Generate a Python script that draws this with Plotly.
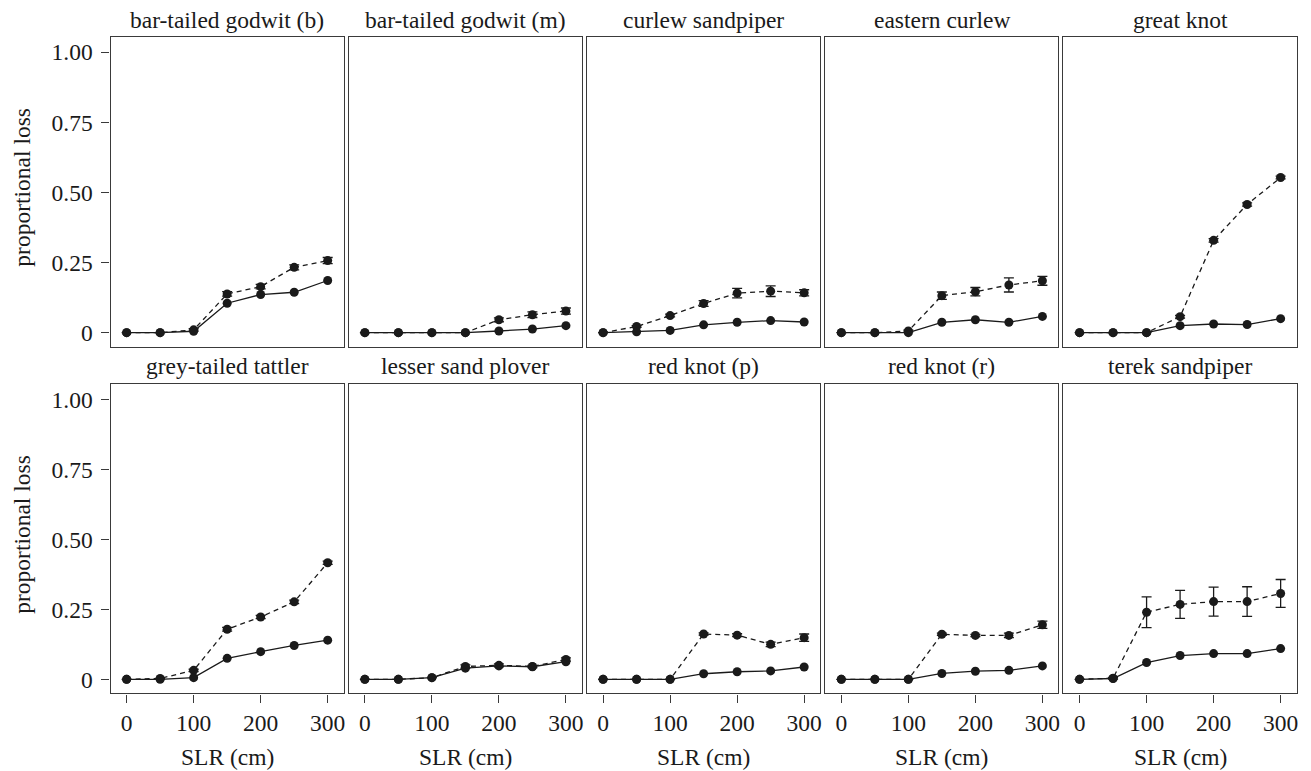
import plotly.graph_objects as go

# ---------------- data ----------------
slr = [0, 50, 100, 150, 200, 250, 300]

species = ["bar-tailed godwit (b)", "bar-tailed godwit (m)", "curlew sandpiper",
           "eastern curlew", "great knot", "grey-tailed tattler",
           "lesser sand plover", "red knot (p)", "red knot (r)", "terek sandpiper"]

btg_b_solid = [0, 0, 0.005, 0.105, 0.136, 0.144, 0.186]
btg_b_dash = [0, 0, 0.010, 0.138, 0.164, 0.233, 0.257]
btg_b_err = [0, 0, 0.004, 0.008, 0.008, 0.009, 0.011]

btg_m_solid = [0, 0, 0, 0, 0.006, 0.013, 0.025]
btg_m_dash = [0, 0, 0, 0, 0.046, 0.064, 0.077]
btg_m_err = [0, 0, 0, 0, 0.007, 0.010, 0.011]

cs_solid = [0, 0.003, 0.008, 0.028, 0.037, 0.043, 0.038]
cs_dash = [0, 0.022, 0.061, 0.104, 0.141, 0.148, 0.142]
cs_err = [0, 0.003, 0.005, 0.010, 0.017, 0.019, 0.011]

ec_solid = [0, 0, 0, 0.037, 0.046, 0.037, 0.058]
ec_dash = [0, 0, 0.006, 0.132, 0.146, 0.170, 0.185]
ec_err = [0, 0, 0.003, 0.013, 0.015, 0.025, 0.016]

gk_solid = [0, 0, 0, 0.025, 0.031, 0.029, 0.050]
gk_dash = [0, 0, 0, 0.057, 0.329, 0.457, 0.553]
gk_err = [0, 0, 0, 0.005, 0.006, 0.006, 0.005]

gtt_solid = [0, 0, 0.006, 0.075, 0.099, 0.121, 0.140]
gtt_dash = [0, 0.003, 0.032, 0.179, 0.223, 0.277, 0.417]
gtt_err = [0, 0, 0.004, 0.007, 0.006, 0.006, 0.006]

lsp_solid = [0, 0, 0.006, 0.040, 0.048, 0.045, 0.063]
lsp_dash = [0, 0, 0.006, 0.046, 0.050, 0.046, 0.071]
lsp_err = [0, 0, 0, 0.006, 0.005, 0.004, 0.006]

rkp_solid = [0, 0, 0, 0.020, 0.027, 0.030, 0.044]
rkp_dash = [0, 0, 0, 0.162, 0.158, 0.125, 0.149]
rkp_err = [0, 0, 0, 0.004, 0.005, 0.008, 0.013]

rkr_solid = [0, 0, 0, 0.021, 0.029, 0.032, 0.048]
rkr_dash = [0, 0, 0, 0.161, 0.157, 0.157, 0.195]
rkr_err = [0, 0, 0, 0.004, 0.004, 0.008, 0.013]

ts_solid = [0, 0.003, 0.060, 0.085, 0.092, 0.092, 0.110]
ts_dash = [0, 0.004, 0.240, 0.268, 0.278, 0.278, 0.307]
ts_err = [0, 0.003, 0.055, 0.050, 0.052, 0.053, 0.050]

solid_series = [btg_b_solid, btg_m_solid, cs_solid, ec_solid, gk_solid,
                gtt_solid, lsp_solid, rkp_solid, rkr_solid, ts_solid]
dash_series = [btg_b_dash, btg_m_dash, cs_dash, ec_dash, gk_dash,
               gtt_dash, lsp_dash, rkp_dash, rkr_dash, ts_dash]
dash_errors = [btg_b_err, btg_m_err, cs_err, ec_err, gk_err,
               gtt_err, lsp_err, rkp_err, rkr_err, ts_err]

y_tickvals = [0, 0.25, 0.5, 0.75, 1.0]
y_ticktext = ["0", "0.25", "0.50", "0.75", "1.00"]
x_tickvals = [0, 100, 200, 300]
x_ticktext = ["0", "100", "200", "300"]

# ---------------- layout ----------------
W, H = 1311, 771
INK = "#1a1a1a"
FONT = "Liberation Serif, Times New Roman, serif"
FS = 23.5

panel_left0 = 110.7
panel_w = 233.6
panel_step = 238.6
rows_px = [(36.7, 346.7), (384.3, 693.3)]  # (top, bottom) in px
title_shift = [2, 3]

fig = go.Figure()
annotations = []

for i, name in enumerate(species):
    r, c = divmod(i, 5)
    n = i + 1
    xa = "x" if n == 1 else f"x{n}"
    ya = "y" if n == 1 else f"y{n}"
    x0 = (panel_left0 + c * panel_step) / W
    x1 = (panel_left0 + c * panel_step + panel_w) / W
    top, bot = rows_px[r]
    y0 = 1 - bot / H
    y1 = 1 - top / H

    fig.add_trace(go.Scatter(
        x=slr, y=dash_series[i], xaxis=xa, yaxis=ya, mode="lines+markers",
        line=dict(color=INK, width=1.3, dash="5px,4px"),
        marker=dict(color=INK, size=9),
        error_y=dict(type="data", array=dash_errors[i], color=INK,
                     thickness=1.3, width=5),
        showlegend=False, hoverinfo="skip"))
    fig.add_trace(go.Scatter(
        x=slr, y=solid_series[i], xaxis=xa, yaxis=ya, mode="lines+markers",
        line=dict(color=INK, width=1.3),
        marker=dict(color=INK, size=9),
        showlegend=False, hoverinfo="skip"))

    xkey = "xaxis" if n == 1 else f"xaxis{n}"
    ykey = "yaxis" if n == 1 else f"yaxis{n}"
    bottom_row = (r == 1)
    left_col = (c == 0)
    fig.layout[xkey] = dict(
        domain=[x0, x1], anchor=ya, range=[-24, 324],
        showline=True, mirror=True, linecolor="#3a3a3a", linewidth=1.4,
        showgrid=False, zeroline=False,
        ticks="outside" if bottom_row else "", ticklen=8, tickwidth=1.3,
        tickcolor="#3a3a3a",
        tickvals=x_tickvals, ticktext=x_ticktext,
        showticklabels=bottom_row,
        tickfont=dict(family=FONT, size=FS, color=INK),
        fixedrange=True)
    fig.layout[ykey] = dict(
        domain=[y0, y1], anchor=xa, range=[-0.05, 1.055],
        showline=True, mirror=True, linecolor="#3a3a3a", linewidth=1.4,
        showgrid=False, zeroline=False,
        ticks="outside" if left_col else "", ticklen=8, tickwidth=1.3,
        tickcolor="#3a3a3a",
        tickvals=y_tickvals, ticktext=y_ticktext,
        showticklabels=left_col, ticklabelstandoff=4,
        tickfont=dict(family=FONT, size=FS, color=INK),
        fixedrange=True)

    # panel title
    annotations.append(dict(
        text=name, xref="paper", yref="paper",
        x=(x0 + x1) / 2, y=y1, xanchor="center", yanchor="bottom",
        yshift=title_shift[r],
        showarrow=False, font=dict(family=FONT, size=FS, color=INK)))

    if bottom_row:
        annotations.append(dict(
            text="SLR (cm)", xref="paper", yref="paper",
            x=(x0 + x1) / 2, y=1 - 757 / H, xanchor="center", yanchor="middle",
            showarrow=False, font=dict(family=FONT, size=FS, color=INK)))
    if left_col:
        annotations.append(dict(
            text="proportional loss", xref="paper", yref="paper",
            x=22 / W, y=1 - ((top + bot) / 2 - 5) / H, xanchor="center",
            yanchor="middle", textangle=-90,
            showarrow=False, font=dict(family=FONT, size=FS, color=INK)))

fig.update_layout(
    width=W, height=H, margin=dict(l=0, r=0, t=0, b=0),
    paper_bgcolor="white", plot_bgcolor="white",
    annotations=annotations, showlegend=False)

fig.write_html("out.html", config={"displayModeBar": False})
